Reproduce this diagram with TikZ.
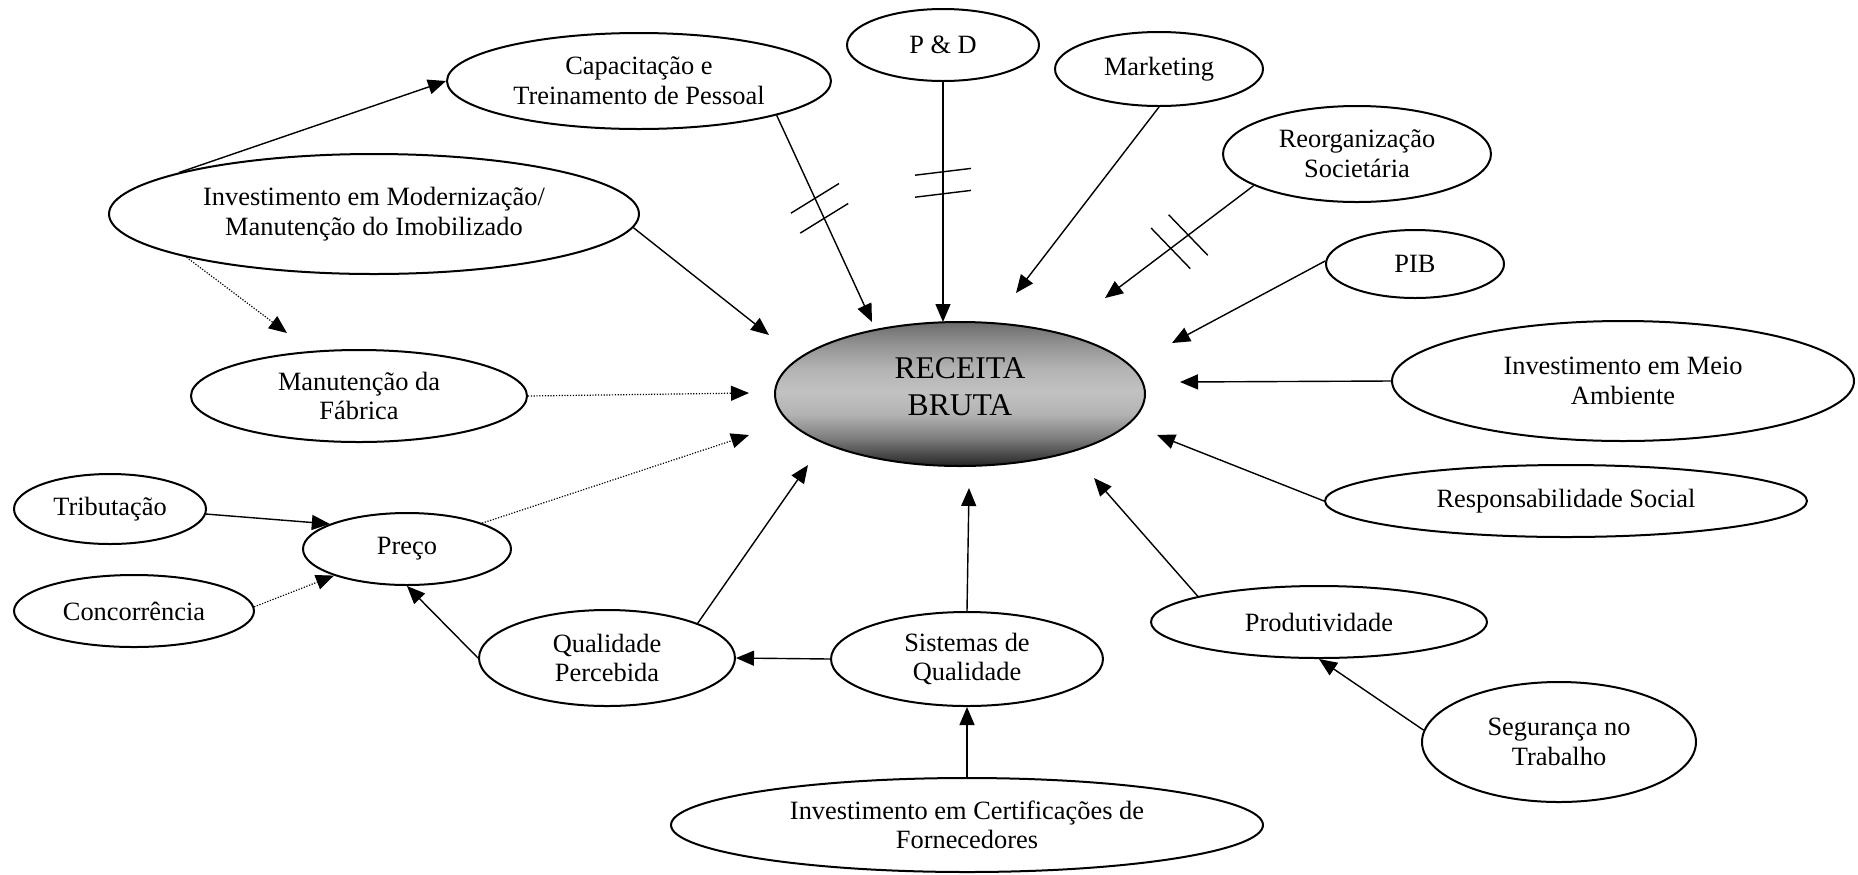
\documentclass[tikz,border=0pt]{standalone}
\usepackage{fontspec}
\setmainfont{Liberation Serif}
\usetikzlibrary{shapes.geometric,arrows.meta,decorations.markings}
\pgfdeclareverticalshading{rbshade}{100bp}{color(0bp)=(black!86); color(25bp)=(black!86); color(27bp)=(black!78); color(35bp)=(black!50); color(43bp)=(black!30); color(51bp)=(black!24); color(59bp)=(black!30); color(67bp)=(black!42); color(75bp)=(black!58); color(100bp)=(black!58)}
\begin{document}
\begin{tikzpicture}[x=0.5pt,y=-0.5pt,
  ell/.style={ellipse, draw, line width=1pt, inner sep=0pt, align=center,
              font=\fontsize{13.2}{14.8}\selectfont},
  arr/.style={line width=0.7pt, -{Triangle[length=9pt,width=7.5pt]}},
  dot/.style={arr, line width=0.6pt, dash pattern=on 0.6pt off 0.8pt},
  brk/.style={postaction={decorate}, decoration={markings, mark=at position #1 with
     {\draw[-, solid, line width=0.7pt] (-3.8pt,-14pt) -- (-7.2pt,14pt) (7.2pt,-14pt) -- (3.8pt,14pt);}}}
]
\useasboundingbox (0,0) rectangle (1858,874);

% nodes
\node[ell, minimum width=185pt, minimum height=72pt, shading=rbshade,
      font=\fontsize{15.8}{18.5}\selectfont] (rb) at (960,394)
      {\raisebox{2pt}[\height][\depth]{\begin{tabular}{@{}c@{}}RECEITA\\BRUTA\end{tabular}}};
\node[ell, minimum width=192pt, minimum height=48pt] (cap) at (639,81) {Capacitação e\\Treinamento de Pessoal};
\node[ell, minimum width=265pt, minimum height=60pt] (imod) at (374,214) {Investimento em Modernização/\\Manutenção do Imobilizado};
\node[ell, minimum width=96pt, minimum height=36pt] (pd) at (943,45) {P \& D};
\node[ell, minimum width=104pt, minimum height=37pt] (mkt) at (1159,69) {Marketing};
\node[ell, minimum width=134pt, minimum height=48pt] (reorg) at (1357,154) {Reorganização\\Societária};
\node[ell, minimum width=89pt, minimum height=34pt] (pib) at (1415,264) {PIB};
\node[ell, minimum width=231pt, minimum height=60pt] (meio) at (1623,381) {Investimento em Meio\\Ambiente};
\node[ell, minimum width=241pt, minimum height=36pt] (resp) at (1566,501) {Responsabilidade Social};
\node[ell, minimum width=168pt, minimum height=36pt] (prod) at (1319,622) {Produtividade};
\node[ell, minimum width=137pt, minimum height=60pt] (seg) at (1559,742) {Segurança no\\Trabalho};
\node[ell, minimum width=136pt, minimum height=47pt] (sis) at (967,659) {Sistemas de\\Qualidade};
\node[ell, minimum width=296pt, minimum height=47pt] (cert) at (967,825) {Investimento em Certificações de\\Fornecedores};
\node[ell, minimum width=128pt, minimum height=48pt] (qual) at (607,658) {Qualidade\\Percebida};
\node[ell, minimum width=104pt, minimum height=36pt] (preco) at (407,549) {Preço};
\node[ell, minimum width=96pt, minimum height=35pt] (trib) at (110,509) {Tributação};
\node[ell, minimum width=120pt, minimum height=36pt] (conc) at (134,611) {Concorrência};
\node[ell, minimum width=168pt, minimum height=46pt] (man) at (359,396) {Manutenção da\\Fábrica};

% free ends near RECEITA BRUTA
\coordinate (t2) at (769,335);
\coordinate (t3) at (287,333);
\coordinate (t4) at (872,322);
\coordinate (t5) at (943,322);
\coordinate (t6) at (1016,293);
\coordinate (t7) at (1105,298);
\coordinate (t8) at (1172,343);
\coordinate (t9) at (1180,382);
\coordinate (t10) at (1157,435);
\coordinate (t11) at (1094,478);
\coordinate (t13) at (969,488);
\coordinate (t16) at (808,465);
\coordinate (t18) at (749,435);
\coordinate (t19) at (749,393);

% connectors
\draw[arr] (imod.168) -- (cap.west);
\draw[arr] (imod.-3) -- (t2);
\draw[dot] (imod.193) -- (t3);
\draw[arr, brk=0.45] (cap.-14) -- (t4);
\draw[arr, brk=0.42] (pd.south) -- (t5);
\draw[arr] (mkt.south) -- (t6);
\draw[arr, brk=0.5] (reorg.197) -- (t7);
\draw[arr] (pib.178) -- (t8);
\draw[arr] (meio.west) -- (t9);
\draw[arr] (resp.west) -- (t10);
\draw[arr] (prod.168) -- (t11);
\draw[arr] (seg.175) -- (prod.south);
\draw[arr] (sis.north) -- (t13);
\draw[arr] (cert.north) -- (sis.south);
\draw[arr] (sis.west) -- (qual.east);
\draw[arr] (qual.21) -- (t16);
\draw[arr] (qual.west) -- (preco.south);
\draw[dot] (preco.19) -- (t18);
\draw[dot] (man.east) -- (t19);
\draw[arr] (trib.-3) -- (preco.162);
\draw[dot] (conc.2) -- (preco.200);
\end{tikzpicture}
\end{document}
